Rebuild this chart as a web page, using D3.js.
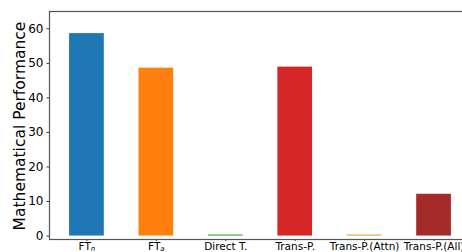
<!DOCTYPE html>
<html><head><meta charset="utf-8">
<script src="https://cdn.jsdelivr.net/npm/d3@7"></script>
<style>body{margin:0;background:#fff}svg{display:block}</style>
</head><body>
<script>
const categories = ["FT_n", "FT_a", "Direct T.", "Trans-P.", "Trans-P.(Attn)", "Trans-P.(All)"];
const values = [58.6, 48.6, 0.3, 48.9, 0.3, 12.1];
const colors = ["#1f77b4", "#ff7f0e", "#2ca02c", "#d62728", "#daa520", "#a52a2a"];
const yTicks = [0, 10, 20, 30, 40, 50, 60];

(function(){
const W = 462, H = 252;
const mL = 50, mR = 470, mT = 11, mB = 239;
const svg = d3.select("body").append("svg").attr("width", W).attr("height", H);

const x = d3.scaleLinear().domain([-0.525, categories.length - 1 + 0.525]).range([mL, mR]);
const y = d3.scaleLinear().domain([-1, 65]).range([mB, mT]);
const bw = (x(1) - x(0)) * 0.5;

svg.append("g").selectAll("rect").data(values).join("rect")
  .attr("x", (d, i) => x(i) - bw / 2)
  .attr("width", bw)
  .attr("y", d => y(d))
  .attr("height", d => y(0) - y(d))
  .attr("fill", (d, i) => colors[i]);

const ya = svg.append("g").attr("transform", `translate(${mL},0)`)
  .call(d3.axisLeft(y).tickValues(yTicks).tickSize(3.5).tickPadding(3));
ya.select(".domain").remove();
ya.selectAll("text").attr("font-family", "DejaVu Sans").attr("font-size", 12).attr("fill", "#000");
ya.selectAll("line").attr("stroke", "#333");

const xa = svg.append("g").attr("transform", `translate(0,${mB})`)
  .call(d3.axisBottom(x).tickValues(d3.range(categories.length)).tickSize(2).tickPadding(2).tickFormat(""));
xa.select(".domain").remove();
xa.selectAll("line").attr("stroke", "#333");
xa.selectAll(".tick").each(function(d, i) {
  const t = d3.select(this).append("text")
    .attr("y", 11).attr("text-anchor", "middle")
    .attr("font-family", "DejaVu Sans").attr("font-size", 10.5).attr("fill", "#000");
  const lab = categories[i];
  if (lab.startsWith("FT_")) {
    t.append("tspan").text("FT");
    t.append("tspan").text(lab.slice(3)).attr("font-style", "italic").attr("font-size", 7).attr("dy", 0.8);
  } else {
    t.text(lab);
  }
});

svg.append("rect").attr("fill", "none").attr("stroke", "#555").attr("stroke-width", 1.2)
  .attr("x", mL - 0.5).attr("y", mT + 0.5).attr("width", mR - mL).attr("height", mB - mT);

svg.append("text")
  .attr("transform", `translate(25,${(mT + mB) / 2 + 1}) rotate(-90)`)
  .attr("text-anchor", "middle")
  .attr("font-family", "DejaVu Sans").attr("font-size", 15.5).attr("fill", "#000")
  .text("Mathematical Performance");
})();
</script>
</body></html>
